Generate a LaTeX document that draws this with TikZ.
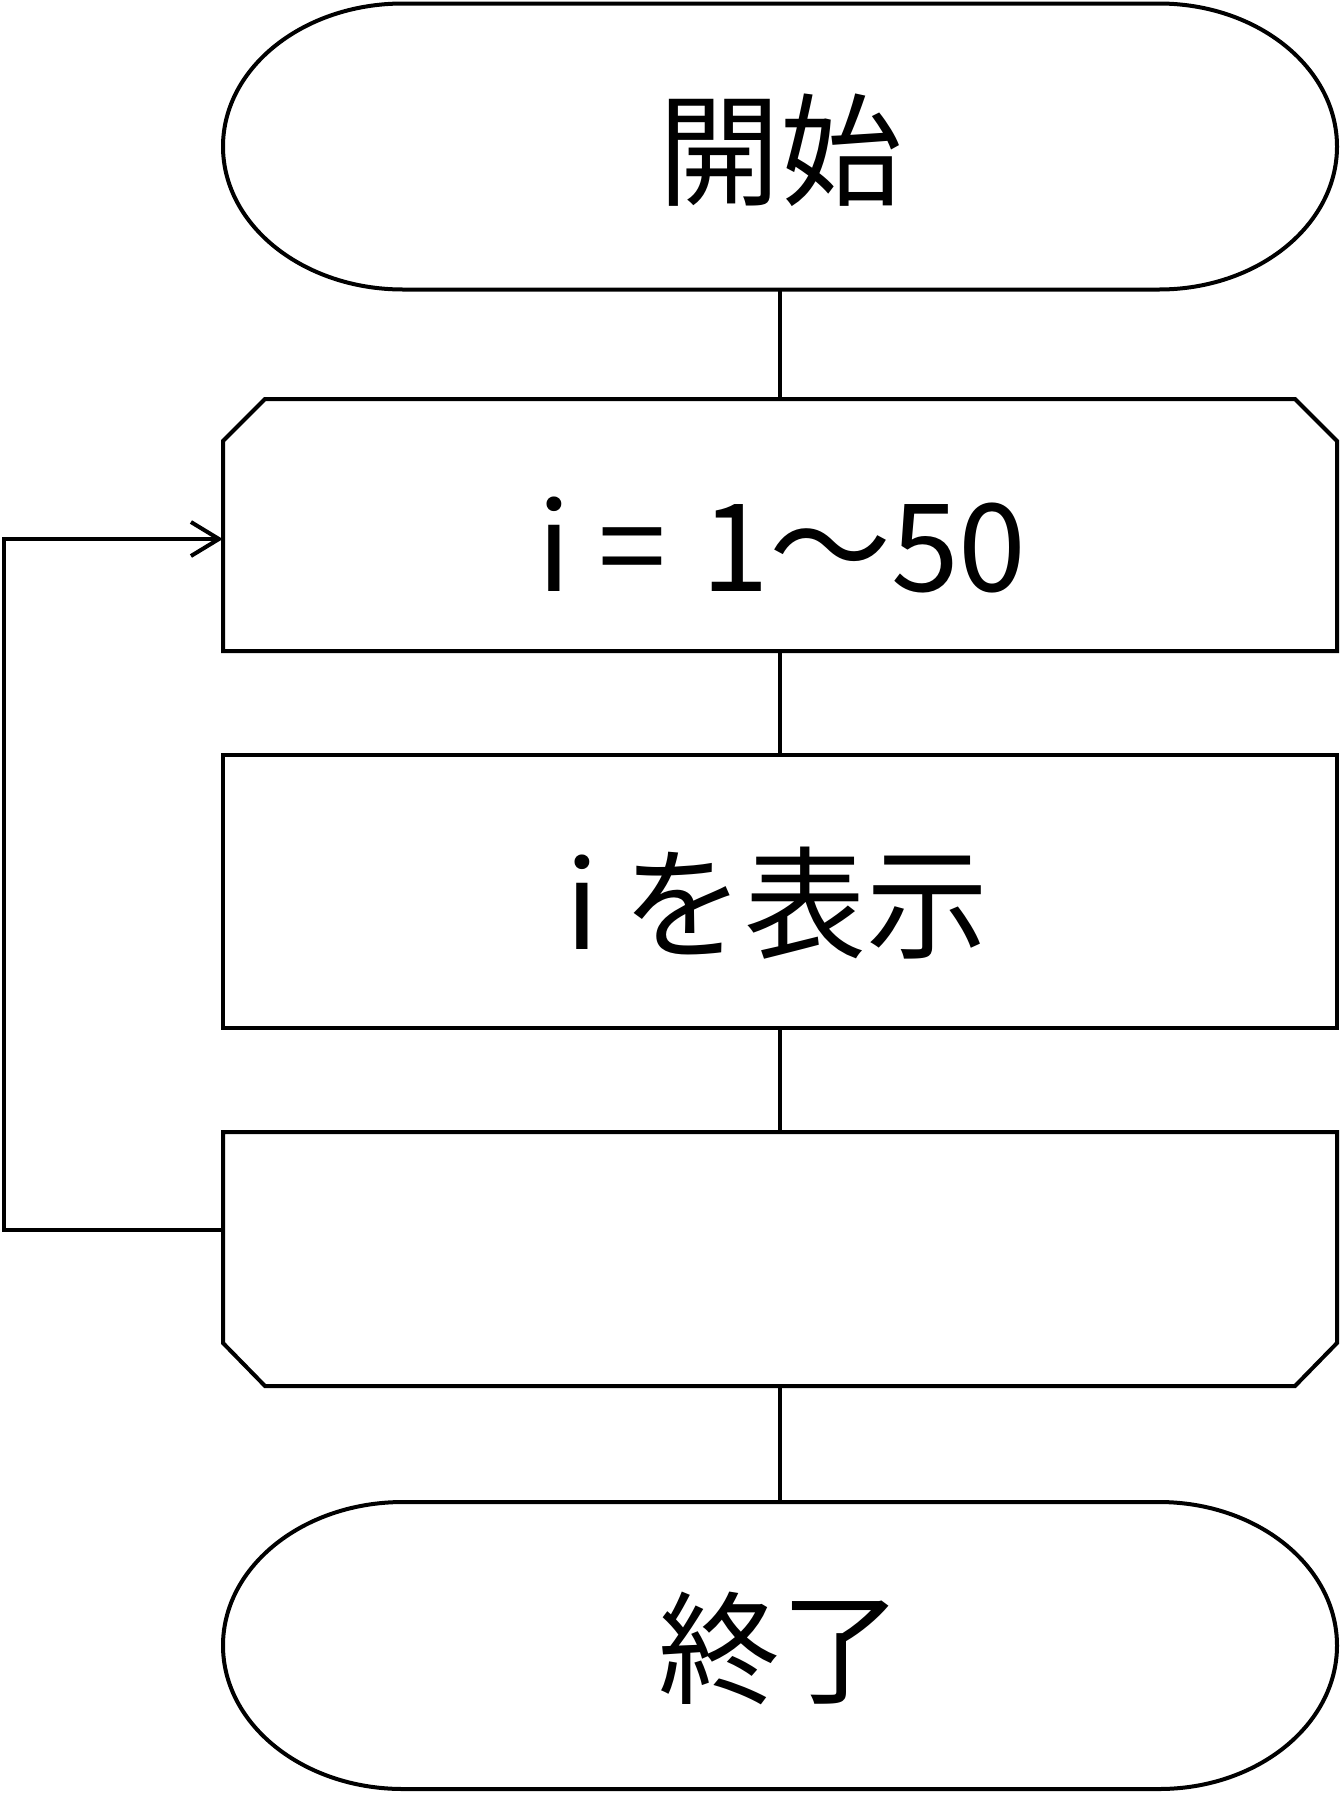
\documentclass[tikz,border=0pt]{standalone}
\usepackage{fontspec}
\newfontfamily\jp{Noto Sans CJK JP}
\usetikzlibrary{arrows.meta}
\begin{document}
\begin{tikzpicture}[x=1pt,y=-1pt,
  outline/.style={draw=black,line width=4pt,line join=miter,fill=white},
  conn/.style={draw=black,line width=4pt},
  box/.style={inner sep=0pt,minimum width=1114pt},
  txt/.style={inner sep=0pt,font=\jp\fontsize{122}{130}\selectfont}]
\useasboundingbox (0,0) rectangle (1340,1794);
% start terminator
\draw[outline] (403,3.5) -- (1159,3.5) arc[start angle=-90,end angle=90,x radius=178,y radius=143] -- (403,289.5) arc[start angle=90,end angle=270,x radius=180,y radius=143] -- cycle;
\node[box,minimum height=286pt] (start) at (780,146.5) {};
\node[txt] (starttxt) at (780,150) {開始};
% loop start
\draw[outline] (223,651) -- (223,441) -- (265,399) -- (1295,399) -- (1337,441) -- (1337,651) -- cycle;
\node[box,minimum height=252pt] (loop) at (780,525) {};
\node[txt] (looptxt) at (782,545) {i = \hspace{8pt}1～50};
% process
\draw[outline] (223,755) rectangle (1337,1028);
\node[box,minimum height=273pt] (disp) at (780,891.5) {};
\node[txt] (disptxt) at (777,903) {i\hspace{24pt}を表示};
% loop end
\draw[outline] (223,1132) -- (1337,1132) -- (1337,1343) -- (1295,1386) -- (265,1386) -- (223,1343) -- cycle;
\node[box,minimum height=254pt] (loopend) at (780,1259) {};
% end terminator
\draw[outline] (403,1502) -- (1159,1502) arc[start angle=-90,end angle=90,x radius=178,y radius=143.5] -- (403,1789) arc[start angle=90,end angle=270,x radius=180,y radius=143.5] -- cycle;
\node[box,minimum height=287pt] (end) at (780,1645.5) {};
\node[txt] (endtxt) at (780,1648) {終了};
% connectors
\draw[conn] (start.south) -- (loop.north);
\draw[conn] (loop.south) -- (disp.north);
\draw[conn] (disp.south) -- (loopend.north);
\draw[conn] (loopend.south) -- (end.north);
\coordinate (lb) at (4,1230);
\coordinate (lt) at (4,539);
\draw[conn,line join=miter,-{Straight Barb[length=28pt,width=34pt,line width=4pt]}] (loopend.west |- lb) -- (lb) -- (lt) -- (loop.west |- lt);
\end{tikzpicture}
\end{document}
